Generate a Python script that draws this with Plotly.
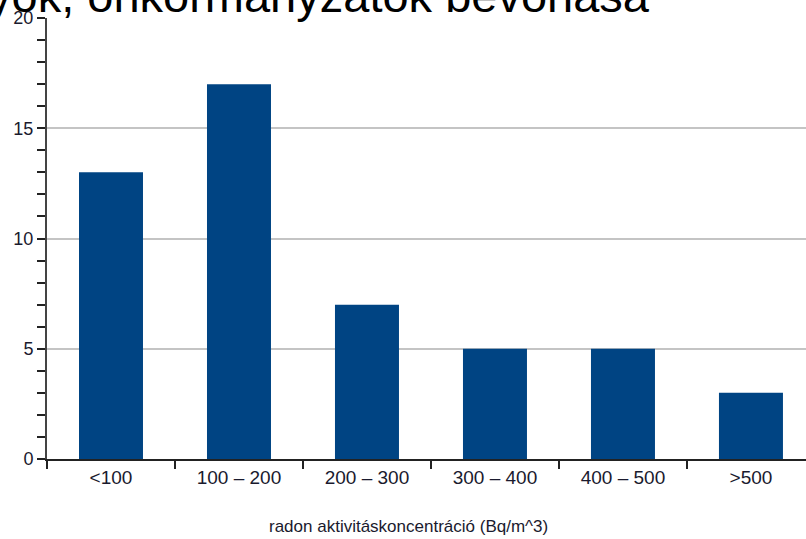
import plotly.graph_objects as go

categories = ["<100", "100 – 200", "200 – 300", "300 – 400", "400 – 500", ">500"]
counts = [13, 17, 7, 5, 5, 3]
title_text = "yok, önkormányzatok bevonása"
x_title = "radon aktivitáskoncentráció (Bq/m^3)"

W, H = 806, 539
L, R, T, B = 47, 0, 18, 80

fig = go.Figure()
fig.add_trace(go.Bar(
    x=categories, y=counts, width=0.5,
    marker=dict(color="#004483", line=dict(width=0)),
))

fig.update_layout(
    width=W, height=H,
    margin=dict(l=L, r=R, t=T, b=B, pad=0, autoexpand=False),
    paper_bgcolor="white", plot_bgcolor="white",
    showlegend=False,
    font=dict(family="Liberation Sans, Arial, sans-serif", color="#1a1a2e"),
    bargap=0.5,
)
fig.update_xaxes(
    range=[-0.5, 5.43], automargin=False,
    showline=True, linecolor="#222222", linewidth=2,
    ticks="outside", tickson="boundaries", ticklen=8, tickwidth=2, tickcolor="#222222",
    tickfont=dict(size=19, color="#1a1a2e"),
    showgrid=False, zeroline=False,
)
fig.update_yaxes(
    range=[0, 20], dtick=5, tick0=0, automargin=False,
    showline=True, linecolor="#444444", linewidth=2,
    ticks="outside", ticklen=8, tickwidth=1.5, tickcolor="#222222",
    tickfont=dict(size=18, color="#1a1a2e"),
    showgrid=True, gridcolor="#c4c4c4", gridwidth=1.5,
    zeroline=False,
    minor=dict(dtick=1, ticks="outside", ticklen=8, tickwidth=1.5, tickcolor="#222222", showgrid=False),
)

fig.add_annotation(
    text=title_text, xref="paper", yref="paper",
    x=-(L + 14) / (W - L), y=1 + (T - 13) / (H - T - B), xanchor="left", yanchor="bottom",
    showarrow=False, font=dict(size=47, color="#000000", family="Liberation Sans, Arial, sans-serif"),
    yshift=-11,
)
fig.add_annotation(
    text=x_title, xref="paper", yref="paper",
    x=(408 - L) / (W - L), y=-(526 - (H - B)) / (H - T - B), xanchor="center", yanchor="middle",
    showarrow=False, font=dict(size=17, color="#1a1a2e"),
)

fig.write_html(
    "out.html",
    config={"displayModeBar": False},
    post_script="document.body.style.margin='0';document.body.style.overflow='hidden';",
)
